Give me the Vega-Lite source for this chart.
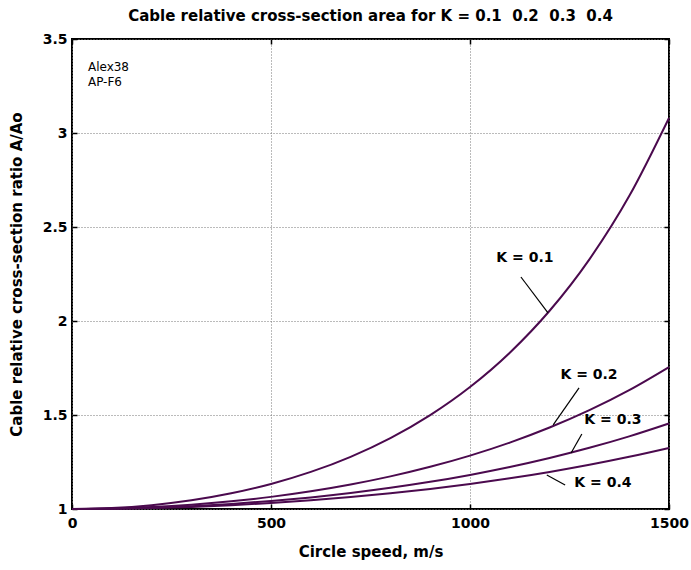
{
  "$schema": "https://vega.github.io/schema/vega-lite/v6.json",
  "width": 597,
  "height": 470,
  "autosize": "none",
  "padding": {"left": 72, "top": 39, "right": 22, "bottom": 61},
  "background": "white",
  "config": {
    "font": "DejaVu Sans",
    "view": {"stroke": "black", "strokeWidth": 2},
    "axis": {"labelFont": "DejaVu Sans", "titleFont": "DejaVu Sans"}
  },
  "title": {
    "text": "Cable relative cross-section area for K = 0.1\u00a0\u00a00.2\u00a0\u00a00.3\u00a0\u00a00.4",
    "font": "DejaVu Sans",
    "fontSize": 15,
    "fontWeight": "bold",
    "color": "black",
    "offset": 8,
    "anchor": "middle"
  },
  "datasets": {
    "curves": [
      {"v": 0, "a": 1.0, "K": "0.1"}, {"v": 100, "a": 1.005, "K": "0.1"}, {"v": 200, "a": 1.0202, "K": "0.1"}, {"v": 300, "a": 1.046, "K": "0.1"}, {"v": 400, "a": 1.0833, "K": "0.1"}, {"v": 500, "a": 1.1331, "K": "0.1"}, {"v": 600, "a": 1.1972, "K": "0.1"}, {"v": 700, "a": 1.2776, "K": "0.1"}, {"v": 800, "a": 1.3771, "K": "0.1"}, {"v": 900, "a": 1.4994, "K": "0.1"}, {"v": 1000, "a": 1.6487, "K": "0.1"}, {"v": 1100, "a": 1.8313, "K": "0.1"}, {"v": 1200, "a": 2.0544, "K": "0.1"}, {"v": 1300, "a": 2.328, "K": "0.1"}, {"v": 1400, "a": 2.6645, "K": "0.1"}, {"v": 1500, "a": 3.0802, "K": "0.1"},
      {"v": 0, "a": 1.0, "K": "0.2"}, {"v": 100, "a": 1.0025, "K": "0.2"}, {"v": 200, "a": 1.0101, "K": "0.2"}, {"v": 300, "a": 1.0228, "K": "0.2"}, {"v": 400, "a": 1.0408, "K": "0.2"}, {"v": 500, "a": 1.0645, "K": "0.2"}, {"v": 600, "a": 1.0942, "K": "0.2"}, {"v": 700, "a": 1.1303, "K": "0.2"}, {"v": 800, "a": 1.1735, "K": "0.2"}, {"v": 900, "a": 1.2245, "K": "0.2"}, {"v": 1000, "a": 1.284, "K": "0.2"}, {"v": 1100, "a": 1.3532, "K": "0.2"}, {"v": 1200, "a": 1.4333, "K": "0.2"}, {"v": 1300, "a": 1.5258, "K": "0.2"}, {"v": 1400, "a": 1.6323, "K": "0.2"}, {"v": 1500, "a": 1.7551, "K": "0.2"},
      {"v": 0, "a": 1.0, "K": "0.3"}, {"v": 100, "a": 1.0017, "K": "0.3"}, {"v": 200, "a": 1.0067, "K": "0.3"}, {"v": 300, "a": 1.0151, "K": "0.3"}, {"v": 400, "a": 1.027, "K": "0.3"}, {"v": 500, "a": 1.0425, "K": "0.3"}, {"v": 600, "a": 1.0618, "K": "0.3"}, {"v": 700, "a": 1.0851, "K": "0.3"}, {"v": 800, "a": 1.1126, "K": "0.3"}, {"v": 900, "a": 1.1445, "K": "0.3"}, {"v": 1000, "a": 1.1814, "K": "0.3"}, {"v": 1100, "a": 1.2234, "K": "0.3"}, {"v": 1200, "a": 1.2712, "K": "0.3"}, {"v": 1300, "a": 1.3254, "K": "0.3"}, {"v": 1400, "a": 1.3863, "K": "0.3"}, {"v": 1500, "a": 1.455, "K": "0.3"},
      {"v": 0, "a": 1.0, "K": "0.4"}, {"v": 100, "a": 1.0013, "K": "0.4"}, {"v": 200, "a": 1.005, "K": "0.4"}, {"v": 300, "a": 1.0113, "K": "0.4"}, {"v": 400, "a": 1.0202, "K": "0.4"}, {"v": 500, "a": 1.0317, "K": "0.4"}, {"v": 600, "a": 1.046, "K": "0.4"}, {"v": 700, "a": 1.0632, "K": "0.4"}, {"v": 800, "a": 1.0833, "K": "0.4"}, {"v": 900, "a": 1.1066, "K": "0.4"}, {"v": 1000, "a": 1.1331, "K": "0.4"}, {"v": 1100, "a": 1.1633, "K": "0.4"}, {"v": 1200, "a": 1.1972, "K": "0.4"}, {"v": 1300, "a": 1.2352, "K": "0.4"}, {"v": 1400, "a": 1.2776, "K": "0.4"}, {"v": 1500, "a": 1.3248, "K": "0.4"}
    ],
    "leaders": [
      {"v": 1128, "a": 2.234, "v2": 1196, "a2": 2.043},
      {"v": 1274, "a": 1.644, "v2": 1209, "a2": 1.447},
      {"v": 1281, "a": 1.399, "v2": 1254, "a2": 1.298},
      {"v": 1193, "a": 1.181, "v2": 1239, "a2": 1.128}
    ],
    "labels": [
      {"v": 1138, "a": 2.335, "text": "K = 0.1"},
      {"v": 1299, "a": 1.713, "text": "K = 0.2"},
      {"v": 1359, "a": 1.473, "text": "K = 0.3"},
      {"v": 1334, "a": 1.138, "text": "K = 0.4"}
    ],
    "notes": [
      {"v": 40, "a": 3.351, "text": "Alex38"},
      {"v": 40, "a": 3.271, "text": "AP-F6"}
    ]
  },
  "layer": [
    {
      "data": {"name": "curves"},
      "mark": {"type": "line", "color": "#4B0A4E", "strokeWidth": 2, "interpolate": "monotone"},
      "encoding": {
        "x": {
          "field": "v", "type": "quantitative",
          "scale": {"domain": [0, 1500], "nice": false, "zero": false},
          "axis": {
            "orient": "bottom",
            "values": [0, 500, 1000, 1500],
            "format": "d",
            "title": "Circle speed, m/s",
            "titleFontSize": 15, "titleFontWeight": "bold", "titleColor": "black", "titlePadding": 14,
            "labelFontSize": 14, "labelFontWeight": "bold", "labelColor": "black", "labelPadding": 12,
            "labelFlush": false,
            "tickSize": -5, "tickColor": "black", "tickWidth": 1.5,
            "domain": false,
            "grid": true, "gridColor": "#777777", "gridDash": [1, 2], "gridWidth": 1
          }
        },
        "y": {
          "field": "a", "type": "quantitative",
          "scale": {"domain": [1, 3.5], "nice": false, "zero": false},
          "axis": {
            "orient": "left",
            "values": [1, 1.5, 2, 2.5, 3, 3.5],
            "labelExpr": "datum.value",
            "title": "Cable relative cross-section ratio A/Ao",
            "titleFontSize": 15, "titleFontWeight": "bold", "titleColor": "black", "titlePadding": 18,
            "labelFontSize": 14, "labelFontWeight": "bold", "labelColor": "black", "labelPadding": 10,
            "labelFlush": false,
            "tickSize": -5, "tickColor": "black", "tickWidth": 1.5,
            "domain": false,
            "grid": true, "gridColor": "#777777", "gridDash": [1, 2], "gridWidth": 1
          }
        },
        "detail": {"field": "K", "type": "nominal"}
      }
    },
    {
      "data": {"name": "leaders"},
      "mark": {"type": "rule", "color": "black", "strokeWidth": 1.2},
      "encoding": {
        "x": {
          "field": "v", "type": "quantitative",
          "axis": {"orient": "top", "values": [0, 500, 1000, 1500], "labels": false, "title": null, "domain": false, "grid": false, "tickSize": -5, "tickColor": "black", "tickWidth": 1.5}
        },
        "y": {
          "field": "a", "type": "quantitative",
          "axis": {"orient": "right", "values": [1, 1.5, 2, 2.5, 3, 3.5], "labels": false, "title": null, "domain": false, "grid": false, "tickSize": -5, "tickColor": "black", "tickWidth": 1.5}
        },
        "x2": {"field": "v2"},
        "y2": {"field": "a2"}
      }
    },
    {
      "data": {"name": "labels"},
      "mark": {"type": "text", "font": "DejaVu Sans", "fontSize": 14, "fontWeight": "bold", "color": "black", "align": "center", "baseline": "middle"},
      "encoding": {
        "x": {"field": "v", "type": "quantitative", "axis": null},
        "y": {"field": "a", "type": "quantitative", "axis": null},
        "text": {"field": "text"}
      }
    },
    {
      "data": {"name": "notes"},
      "mark": {"type": "text", "font": "DejaVu Sans", "fontSize": 12, "color": "black", "align": "left", "baseline": "middle"},
      "encoding": {
        "x": {"field": "v", "type": "quantitative", "axis": null},
        "y": {"field": "a", "type": "quantitative", "axis": null},
        "text": {"field": "text"}
      }
    }
  ],
  "resolve": {"axis": {"x": "independent", "y": "independent"}}
}
